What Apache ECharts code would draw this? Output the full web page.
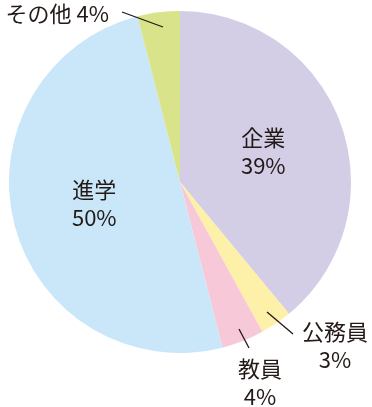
<!DOCTYPE html>
<html>
<head>
<meta charset="utf-8">
<script src="https://cdn.jsdelivr.net/npm/echarts@6/dist/echarts.min.js"></script>
<style>
html,body{margin:0;padding:0;background:#fff;}
#chart{width:372px;height:407px;}
</style>
</head>
<body>
<div id="chart"></div>
<script>
var categories = ['企業', '公務員', '教員', '進学', 'その他'];
var values = [39, 3, 4, 50, 4];
var colors = ['#d3cde6', '#fdf0a8', '#f7c8d8', '#c9e7f9', '#d9e48a'];
var insideLabels = ['企業', '進学'];

var FONT = '"Noto Sans CJK JP", "Noto Sans", sans-serif';
var TEXT = '#231916';

var chart = echarts.init(document.getElementById('chart'), null, {renderer: 'canvas'});

var labelBase = {color: TEXT, fontFamily: FONT, fontSize: 22, lineHeight: 28};

// base pie: slices + inside labels
var baseData = categories.map(function (c, i) {
  var inside = insideLabels.indexOf(c) >= 0;
  return {
    name: c,
    value: values[i],
    itemStyle: {color: colors[i]},
    label: {show: inside, position: 'inside', formatter: '{b}\n{c}%'},
    labelLine: {show: false}
  };
});

// overlay pie (invisible slices): outside labels with leader lines drawn on top of slices
var overlayData = categories.map(function (c, i) {
  var inside = insideLabels.indexOf(c) >= 0;
  return {
    name: c,
    value: values[i],
    itemStyle: {color: 'rgba(0,0,0,0)'},
    label: {show: !inside, position: 'outside', formatter: c === 'その他' ? '{b} {c}%' : '{b}\n{c}%'},
    labelLine: {show: !inside}
  };
});

var outsideLayout = {
  1: {x: 335, y: 346, align: 'center', verticalAlign: 'middle', pts: [[267, 312], [293, 334]]},
  2: {x: 260, y: 383, align: 'center', verticalAlign: 'middle', pts: [[239, 329], [249, 348]]},
  4: {x: 109, y: 14, align: 'right', verticalAlign: 'middle', pts: [[163, 27], [122, 12]]}
};

var common = {
  type: 'pie',
  center: [180, 182],
  radius: [0, 171],
  startAngle: 90,
  clockwise: true,
  avoidLabelOverlap: false,
  silent: true,
  label: labelBase,
  itemStyle: {borderWidth: 0},
  emphasis: {disabled: true}
};

chart.setOption({
  animation: false,
  backgroundColor: '#fff',
  series: [
    Object.assign({}, common, {data: baseData, z: 1}),
    Object.assign({}, common, {
      z: 5,
      labelLine: {show: true, smooth: false, lineStyle: {color: '#231916', width: 1.3}},
      labelLayout: function (p) {
        var o = outsideLayout[p.dataIndex];
        if (!o) return {};
        return {x: o.x, y: o.y, align: o.align, verticalAlign: o.verticalAlign, labelLinePoints: o.pts};
      },
      data: overlayData
    })
  ]
});
</script>
</body>
</html>
